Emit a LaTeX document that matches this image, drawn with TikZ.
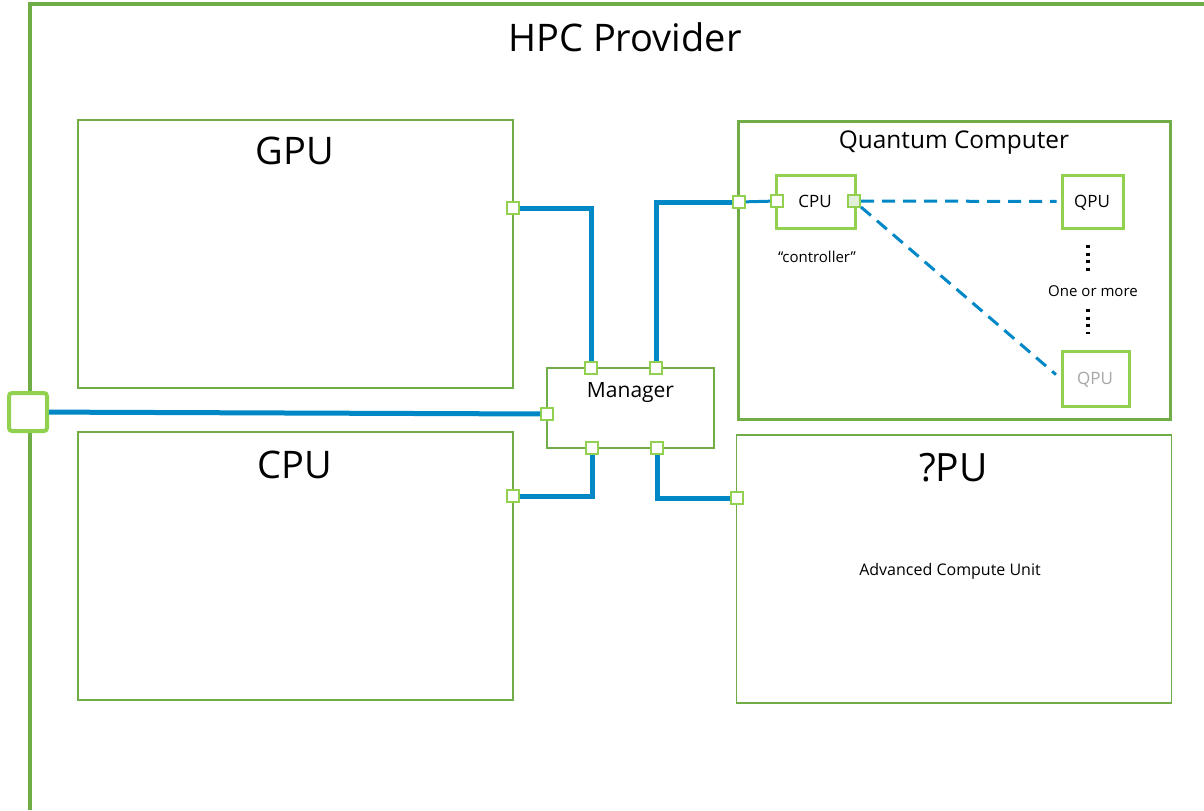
\documentclass[tikz,border=0pt]{standalone}
\usepackage{fontspec}
\setmainfont{Open Sans}
\definecolor{frame}{HTML}{70AD47}
\definecolor{leaf}{HTML}{92D050}
\definecolor{wire}{RGB}{0,136,198}
\definecolor{pale}{HTML}{E2EFDA}
\tikzset{unit/.style={draw=frame,line width=.75pt,inner sep=0pt,minimum width=217.5pt,minimum height=134pt}}
\tikzset{chip/.style={draw=leaf,line width=1.5pt,inner sep=0pt,minimum height=26.5pt}}
\tikzset{port/.style={draw=leaf,fill=white,line width=1pt,inner sep=0pt,minimum size=6pt}}
\tikzset{link/.style={draw=wire,line width=2.5pt}}
\tikzset{qlink/.style={draw=wire,line width=1.5pt,dash pattern=on 6.5pt off 4pt}}
\tikzset{dots/.style={line width=1.6pt,dash pattern=on 1.6pt off 2.2pt}}
\tikzset{huge/.style={anchor=base,font=\fontsize{19}{23}\selectfont}}
\tikzset{mid/.style={anchor=base,font=\fontsize{12.2}{15}\selectfont}}
\tikzset{small/.style={anchor=base,font=\fontsize{8.5}{10}\selectfont}}
\tikzset{tiny/.style={anchor=base,font=\fontsize{7.5}{9}\selectfont}}

\begin{document}
\begin{tikzpicture}[x=.5pt,y=-.5pt]
  \useasboundingbox (0,0) rectangle (1204,810);
  \draw[frame,line width=2pt] (30,810) -- (30,4) -- (1204,4);
  \node[huge] (hpc) at (625,51) {HPC Provider};

  \node[unit] (gpu) at (295.5,254) {};
  \node[unit] (cpu) at (295.5,566) {};
  \node[unit] (xpu) at (954,569) {};
  \node[unit,line width=1.5pt,minimum width=216pt,minimum height=149pt] (qc) at (954,270) {};
  \node[unit,minimum width=83.5pt,minimum height=40pt] (mgr) at (630.5,408) {};

  \node[huge] (gpulabel) at (295,164) {GPU};
  \node[huge] (cpulabel) at (295,478) {CPU};
  \node[huge,font=\fontsize{19.5}{23}\selectfont] (xpulabel) at (953.5,481) {?PU};
  \node[tiny,font=\fontsize{8}{10}\selectfont] (acu) at (950,575) {Advanced Compute Unit};
  \node[mid] (qclabel) at (954,148) {Quantum Computer};
  \node[mid,font=\fontsize{10.5}{13}\selectfont] (mgrlabel) at (630.5,397) {Manager};

  \node[chip,minimum width=39.5pt] (ctrl) at (815.5,201.5) {};
  \node[small] at (815,207) {CPU};
  \node[tiny] (ctrllabel) at (817,262) {``controller''};
  \node[chip,minimum width=30.5pt] (qpua) at (1092.5,201.5) {};
  \node[small] at (1092,207) {QPU};
  \node[chip,minimum width=33.5pt,minimum height=27.5pt] (qpub) at (1095.5,378.5) {};
  \node[small,text=black!35] at (1095,384) {QPU};
  \node[tiny] (more) at (1093,296) {One or more};
  \draw[dots] (1088,245) -- (1088,274);
  \draw[dots] (1088,309) -- (1088,334);

  \node[port,minimum size=19pt,line width=2pt,rounded corners=1.5pt] (hpcport) at (28,412) {};
  \node[port] (gpuport) at (513,208) {};
  \node[port] (cpuport) at (513,496) {};
  \node[port] (mtopa) at (591,368) {};
  \node[port] (mtopb) at (656,368) {};
  \node[port] (mleft) at (547,414) {};
  \node[port] (mbota) at (592,448) {};
  \node[port] (mbotb) at (657,448) {};
  \node[port] (qcport) at (739,202) {};
  \node[port] (xpuport) at (737,498) {};
  \node[port] (ctrlin) at (777,201) {};
  \node[port,fill=pale] (ctrlout) at (854,201) {};

  \draw[link] (hpcport) -- (mleft);
  \draw[link] (gpuport) -| (mtopa);
  \draw[link] (mtopb) |- (qcport);
  \draw[link] (mbota) |- (cpuport);
  \draw[link] (mbotb) |- (xpuport);
  \draw[link,line width=1.5pt] (qcport) -- (ctrlin);
  \draw[qlink,shorten >=2pt] (ctrlout) -- (qpua);
  \draw[qlink,shorten >=3pt] (ctrlout) -- (qpub.west);
\end{tikzpicture}
\end{document}
